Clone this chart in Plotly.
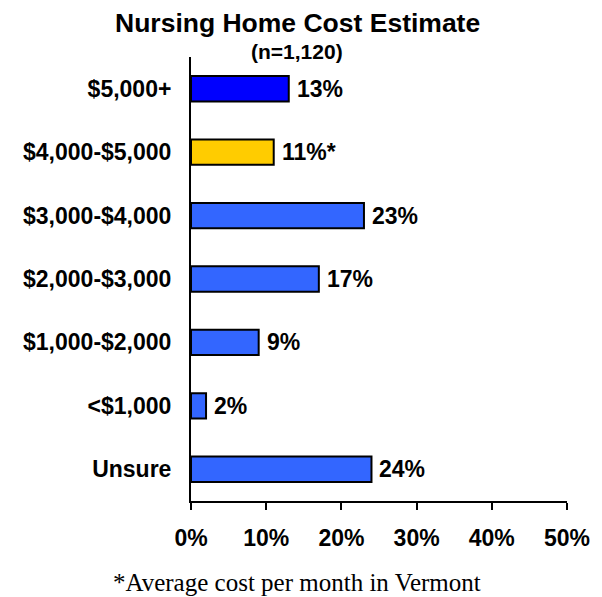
import plotly.graph_objects as go

categories = ["$5,000+", "$4,000-$5,000", "$3,000-$4,000", "$2,000-$3,000",
              "$1,000-$2,000", "<$1,000", "Unsure"]
values = [13, 11, 23, 17, 9, 2, 24]
notes = ["", "*", "", "", "", "", ""]
bar_colors = ["#0000FF", "#FFCC00", "#3366FF", "#3366FF", "#3366FF", "#3366FF", "#3366FF"]
tick_vals = [0, 10, 20, 30, 40, 50]
tick_text = ["0%", "10%", "20%", "30%", "40%", "50%"]

title_text = "Nursing Home Cost Estimate"
subtitle_text = "(n=1,120)"
footnote_text = "*Average cost per month in Vermont"

SANS = "Liberation Sans, Arial, sans-serif"
SERIF = "Liberation Serif, Times New Roman, serif"

fig = go.Figure()
fig.add_trace(go.Bar(
    y=categories, x=values, orientation="h",
    marker=dict(color=bar_colors, line=dict(color="black", width=2)),
    width=0.4,
    hoverinfo="skip",
))

for c, v, n in zip(categories, values, notes):
    fig.add_annotation(x=v, y=c, xref="x", yref="y", text=f"{v}%{n}",
                       showarrow=False, xanchor="left", yanchor="middle", xshift=6,
                       font=dict(family=SANS, size=23, color="black", weight="bold"))

fig.add_annotation(x=0.283, y=1.077, xref="paper", yref="paper", text=title_text,
                   showarrow=False, xanchor="center", yanchor="middle",
                   font=dict(family=SANS, size=26.5, color="black", weight="bold"))
fig.add_annotation(x=0.283, y=1.013, xref="paper", yref="paper", text=subtitle_text,
                   showarrow=False, xanchor="center", yanchor="middle",
                   font=dict(family=SANS, size=21, color="black", weight="bold"))
fig.add_annotation(x=0.283, y=-0.184, xref="paper", yref="paper", text=footnote_text,
                   showarrow=False, xanchor="center", yanchor="middle",
                   font=dict(family=SERIF, size=25, color="black"))

fig.update_layout(
    width=602, height=597,
    margin=dict(l=191, r=33, t=57, b=96),
    paper_bgcolor="white", plot_bgcolor="white",
    showlegend=False,
    xaxis=dict(range=[0, 50], tickvals=tick_vals, ticktext=tick_text,
               showgrid=False, zeroline=False, showline=True, linecolor="black", linewidth=2,
               ticks="outside", ticklen=7, tickwidth=2, tickcolor="black",
               ticklabelstandoff=8,
               tickfont=dict(family=SANS, size=23, color="black", weight="bold"),
               fixedrange=True),
    yaxis=dict(categoryorder="array", categoryarray=categories[::-1],
               showgrid=False, zeroline=False, showline=True, linecolor="black", linewidth=2,
               ticks="", ticklabelstandoff=13,
               tickfont=dict(family=SANS, size=23, color="black", weight="bold"),
               fixedrange=True),
)

fig.write_html("out.html", config={"displayModeBar": False},
               post_script="document.body.style.margin='0';document.body.style.padding='0';")
